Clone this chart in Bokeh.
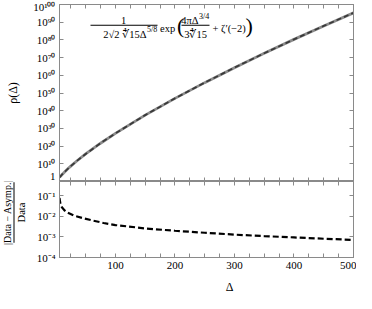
import numpy as np
from bokeh.plotting import figure
from bokeh.layouts import column, row
from bokeh.models import (Range1d, LinearAxis, LogAxis, FixedTicker, Label, BoxAnnotation,
                          CustomJSTickFormatter)
from bokeh.embed import file_html
from bokeh.resources import INLINE

# ---- data ----
delta = [6, 8, 10, 15, 20, 25, 35, 50, 75, 100, 150, 200, 250, 300, 350, 400, 450, 500]
log10_rho_data = [2.30, 3.07, 3.82, 5.55, 7.17, 8.70, 11.58, 15.56, 21.63, 27.22,
                  37.50, 46.97, 55.86, 64.33, 72.45, 80.30, 87.90, 95.30]
log10_rho_asymp = [2.30, 3.07, 3.82, 5.55, 7.17, 8.70, 11.58, 15.56, 21.63, 27.22,
                   37.50, 46.97, 55.86, 64.33, 72.45, 80.30, 87.90, 95.30]

delta_err = [6, 7, 8, 10, 15, 20, 30, 45, 60, 80, 100, 150, 200, 250, 300, 350, 400, 450, 500]
rel_err = [0.08, 0.05, 0.037, 0.028, 0.019, 0.015, 0.011, 0.0083, 0.0065, 0.0048, 0.0038,
           0.0026, 0.0020, 0.0016, 0.0013, 0.0011, 0.00095, 0.00082, 0.00072]

x_major = [100, 200, 300, 400, 500]
x_minor = [25, 50, 75, 125, 150, 175, 225, 250, 275, 325, 350, 375, 425, 450, 475]
top_exps = [0, 10, 20, 30, 40, 50, 60, 70, 80, 90, 100]
top_tick_labels = ["1", "10¹⁰", "10²⁰", "10³⁰", "10⁴⁰", "10⁵⁰", "10⁶⁰", "10⁷⁰", "10⁸⁰", "10⁹⁰", "10¹⁰⁰"]
bot_exps = [-4, -3, -2, -1]
bot_tick_labels = ["10⁻⁴", "10⁻³", "10⁻²", "10⁻¹"]

top_ticks = [10.0 ** e for e in top_exps]
bot_ticks = [10.0 ** e for e in bot_exps]

FONT = "Liberation Serif"
AX = "#8a8a8a"

EXP_CODE = """
const e = Math.round(Math.log10(tick));
const i = exps.indexOf(e);
return i >= 0 ? labels[i] : "";
"""


def style_axis(ax, ticker, formatter):
    ax.ticker = ticker
    ax.formatter = formatter
    ax.axis_line_color = AX
    ax.major_tick_line_color = AX
    ax.minor_tick_line_color = AX
    ax.major_tick_in = 4
    ax.major_tick_out = 0
    ax.minor_tick_in = 4
    ax.minor_tick_out = 0
    ax.major_label_text_font = FONT
    ax.major_label_text_color = "black"
    ax.major_label_text_font_size = "11px"
    ax.axis_label_text_font = FONT
    ax.axis_label_text_font_style = "normal"
    ax.axis_label_text_color = "black"


def hidden_axis(ax, ticker):
    style_axis(ax, ticker, CustomJSTickFormatter(code="return '';"))
    ax.major_label_standoff = 0


def lab(p, x, y, text, size="10.5px", align="left", baseline="alphabetic", angle=0.0,
        units="screen"):
    p.add_layout(Label(x=x, y=y, x_units=units, y_units=units, text=text,
                       text_font=FONT, text_font_size=size, text_align=align,
                       text_baseline=baseline, angle=angle, text_color="black"))


def bar(p, l, r, b, t, units="screen"):
    p.add_layout(BoxAnnotation(left=l, right=r, bottom=b, top=t,
                               left_units=units, right_units=units,
                               bottom_units=units, top_units=units,
                               fill_color="black", fill_alpha=1.0, line_alpha=0.0))


def blank_panel(w, h):
    q = figure(width=w, height=h, x_range=Range1d(0, w), y_range=Range1d(0, h),
               output_backend="svg", toolbar_location=None, min_border=0)
    q.axis.visible = False
    q.grid.visible = False
    q.outline_line_color = None
    return q


H1 = 181
H2 = 98
HB = 293 - H1 - H2

# ---- top panel ----
p1 = figure(width=356, height=H1, x_range=Range1d(6, 500), y_range=Range1d(1, 1e100),
            y_axis_type="log", output_backend="svg", toolbar_location=None,
            min_border_left=59, min_border_right=3, min_border_top=4, min_border_bottom=0)
p1.grid.visible = False
p1.outline_line_color = AX

hidden_axis(p1.xaxis[0], FixedTicker(ticks=x_major, minor_ticks=x_minor))
style_axis(p1.yaxis[0], FixedTicker(ticks=top_ticks, minor_ticks=[]),
           CustomJSTickFormatter(args=dict(exps=top_exps, labels=top_tick_labels), code=EXP_CODE))
p1.yaxis[0].major_label_standoff = 4
p1.yaxis[0].axis_label = "ρ(Δ)"
p1.yaxis[0].axis_label_text_font_size = "12px"
p1.yaxis[0].axis_label_standoff = 10

ax_top = LinearAxis()
hidden_axis(ax_top, FixedTicker(ticks=x_major, minor_ticks=x_minor))
p1.add_layout(ax_top, "above")
ax_right = LogAxis()
hidden_axis(ax_right, FixedTicker(ticks=top_ticks, minor_ticks=[]))
p1.add_layout(ax_right, "right")

rho_data = 10.0 ** np.array(log10_rho_data)
rho_asymp = 10.0 ** np.array(log10_rho_asymp)
p1.line(delta, rho_data, line_color="#8c8c8c", line_width=2.8)
p1.line(delta, rho_asymp, line_color="#3a3a3a", line_width=1.8, line_dash="5 3")

# formula (positions in px from the frame's lower-left corner)
ft = H1 - 4  # frame top
lab(p1, 64, ft - 16, "1", align="center")
bar(p1, 31, 98, ft - 21.2, ft - 20.2)
lab(p1, 87, ft - 30, "2√2 ∜15Δ", align="right")
lab(p1, 87.5, ft - 25, "5/8", size="8px")
lab(p1, 100.5, ft - 24, "exp")
lab(p1, 117.5, ft - 21, "(", size="22px", baseline="middle")
lab(p1, 139, ft - 16, "4πΔ", align="right")
lab(p1, 139.5, ft - 11.5, "3/4", size="8px")
bar(p1, 122, 150, ft - 21.2, ft - 20.2)
lab(p1, 136, ft - 30, "3∜15", align="center")
lab(p1, 153, ft - 24, "+ ζ′(−2)")
lab(p1, 186, ft - 21, ")", size="22px", baseline="middle")

# ---- bottom panel ----
p2 = figure(width=326, height=H2, x_range=p1.x_range, y_range=Range1d(1e-4, 10 ** -0.3),
            y_axis_type="log", output_backend="svg", toolbar_location=None,
            min_border_left=29, min_border_right=3, min_border_top=0, min_border_bottom=22)
p2.grid.visible = False
p2.outline_line_color = AX

style_axis(p2.xaxis[0], FixedTicker(ticks=x_major, minor_ticks=x_minor),
           CustomJSTickFormatter(code="return tick.toFixed(0);"))
p2.xaxis[0].major_label_standoff = 4
style_axis(p2.yaxis[0], FixedTicker(ticks=bot_ticks, minor_ticks=[]),
           CustomJSTickFormatter(args=dict(exps=bot_exps, labels=bot_tick_labels), code=EXP_CODE))
p2.yaxis[0].major_label_standoff = 4

ax_top2 = LinearAxis()
hidden_axis(ax_top2, FixedTicker(ticks=x_major, minor_ticks=x_minor))
p2.add_layout(ax_top2, "above")
ax_right2 = LogAxis()
hidden_axis(ax_right2, FixedTicker(ticks=bot_ticks, minor_ticks=[]))
p2.add_layout(ax_right2, "right")

p2.line(delta_err, rel_err, line_color="black", line_width=2.2, line_dash="6 3")

# y label of the bottom panel, written as a fraction, in a narrow side panel
pl = blank_panel(30, H2)
yc = 58
lab(pl, 7, yc, "|Data − Asymp.|", size="10px", align="center", baseline="middle",
    angle=np.pi / 2, units="data")
bar(pl, 13, 14, yc - 39, yc + 39, units="data")
lab(pl, 21, yc, "Data", size="10.5px", align="center", baseline="middle",
    angle=np.pi / 2, units="data")

# x label in a thin panel below
pb = blank_panel(356, HB)
lab(pb, 59 + 147, HB / 2, "Δ", size="12px", align="center", baseline="middle", units="data")

layout = column(p1, row(pl, p2, spacing=0), pb, spacing=0)
open("out.html", "w").write(file_html(layout, INLINE))
